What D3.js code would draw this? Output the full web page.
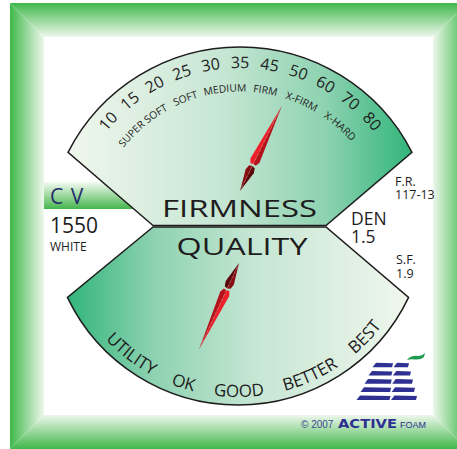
<!DOCTYPE html>
<html>
<head>
<meta charset="utf-8">
<script src="https://d3js.org/d3.v7.min.js"></script>
<style>
  body { margin: 0; background: #fff; }
  svg { display: block; font-family: "Open Sans", "Noto Sans", sans-serif; }
</style>
</head>
<body>
<script>
  // data
  var firmnessTicks = [10, 15, 20, 25, 30, 35, 45, 50, 60, 70, 80];
  var firmnessGrades = ["SUPER SOFT", "SOFT", "MEDIUM", "FIRM", "X-FIRM", "X-HARD"];
  var gradeValues = [14, 24, 32, 45, 55, 73];
  var qualityGrades = ["UTILITY", "OK", "GOOD", "BETTER", "BEST"];
  var firmnessValue = 50;
  var qualityValue = "OK";
  var cvLines = ["C V", "1550", "WHITE"];
  var specNames = ["F.R.", "DEN", "S.F."];
  var specValues = ["117-13", "1.5", "1.9"];

  var width = 457, height = 449;
  var green = "#3fb84a", pale = "#eef7ec";
  var teal = "#31b57a", tealPale = "#f0f7ed";
  var ink = "#1e1c1d";

  function rad(d) { return d * Math.PI / 180; }

  var svg = d3.select("body").append("svg")
      .attr("width", width).attr("height", height);
  var defs = svg.append("defs");

  function grad(id, x1, y1, x2, y2, stops) {
    var g = defs.append("linearGradient").attr("id", id)
      .attr("x1", x1).attr("y1", y1).attr("x2", x2).attr("y2", y2);
    stops.forEach(function(s) {
      g.append("stop").attr("offset", s[0]).attr("stop-color", s[1]);
    });
  }

  // frame
  var o = {x0: 10, y0: 3, x1: 467, y1: 449};
  var n = {x0: 44, y0: 37, x1: 433, y1: 415};
  grad("gTop", 0, 0, 0, 1, [[0, green], [1, pale]]);
  grad("gBot", 0, 0, 0, 1, [[0, pale], [1, green]]);
  grad("gLeft", 0, 0, 1, 0, [[0, green], [1, pale]]);
  grad("gRight", 0, 0, 1, 0, [[0, pale], [1, green]]);
  var sides = [
    {f: "gTop", p: [[o.x0, o.y0], [o.x1, o.y0], [n.x1, n.y0], [n.x0, n.y0]]},
    {f: "gBot", p: [[n.x0, n.y1], [n.x1, n.y1], [o.x1, o.y1], [o.x0, o.y1]]},
    {f: "gLeft", p: [[o.x0, o.y0], [n.x0, n.y0], [n.x0, n.y1], [o.x0, o.y1]]},
    {f: "gRight", p: [[n.x1, n.y0], [o.x1, o.y0], [o.x1, o.y1], [n.x1, n.y1]]}
  ];
  svg.selectAll("polygon.frame").data(sides).enter().append("polygon")
    .attr("class", "frame")
    .attr("points", function(d) { return d.p.join(" "); })
    .attr("fill", function(d) { return "url(#" + d.f + ")"; });

  // CV band
  grad("gBand", 0, 0, 0, 1, [[0, "#f4faf2"], [1, "#45b64c"]]);
  svg.append("rect").attr("x", n.x0).attr("y", 182).attr("width", 100).attr("height", 27)
    .attr("fill", "url(#gBand)");

  // gauges
  var up = {cx: 240, cy: 240, r: 193, a: 63, y: 225.5, xl: 153, xr: 326};
  var lo = {cx: 238, cy: 216, r: 189, a: 64.5, y: 227, xl: 153, xr: 326};
  grad("gUp", 0, 0, 1, 0, [[0, tealPale], [0.45, "#c6e6d3"], [0.75, "#8dd2b1"], [1, teal]]);
  grad("gLo", 0, 0, 1, 0, [[0, teal], [0.25, "#8dd2b1"], [0.55, "#c6e6d3"], [1, tealPale]]);

  var pu = d3.path();
  pu.moveTo(up.xl, up.y);
  pu.arc(up.cx, up.cy, up.r, rad(-up.a - 90), rad(up.a - 90), false);
  pu.lineTo(up.xr, up.y);
  pu.closePath();
  svg.append("path").attr("d", pu.toString()).attr("fill", "url(#gUp)")
    .attr("stroke", ink).attr("stroke-width", 1.5);

  var pl = d3.path();
  pl.moveTo(lo.xl, lo.y);
  pl.arc(lo.cx, lo.cy, lo.r, rad(90 + lo.a), rad(90 - lo.a), true);
  pl.lineTo(lo.xr, lo.y);
  pl.closePath();
  svg.append("path").attr("d", pl.toString()).attr("fill", "url(#gLo)")
    .attr("stroke", ink).attr("stroke-width", 1.5);

  // upper scale
  var tickPos = d3.scalePoint().domain(firmnessTicks).range([-48, 48]);
  var firmAngle = d3.scaleLinear().domain(firmnessTicks)
    .range(firmnessTicks.map(function(d) { return tickPos(d); }));

  // text baselines: upper arcs run left->top->right, lower arc left->bottom->right
  function arcPath(id, cx, cy, r, lower) {
    var p = d3.path();
    p.moveTo(cx - r, cy);
    if (lower) p.arc(cx, cy, r, Math.PI, 0, true);
    else p.arc(cx, cy, r, -Math.PI, 0, false);
    defs.append("path").attr("id", id).attr("d", p.toString());
  }
  var rNum = 172, rGrade = 148.5, rQual = 181;
  arcPath("numArc", up.cx, up.cy, rNum, false);
  arcPath("gradeArc", up.cx, up.cy, rGrade, false);
  arcPath("qualArc", lo.cx, lo.cy, rQual, true);

  svg.append("g").selectAll("text").data(firmnessTicks).enter().append("text")
    .attr("font-size", 16).attr("fill", ink)
    .append("textPath").attr("href", "#numArc")
    .attr("text-anchor", "middle")
    .attr("startOffset", function(d) { return rNum * rad(tickPos(d) + 90); })
    .text(function(d) { return d; });

  svg.append("g").selectAll("text").data(firmnessGrades).enter().append("text")
    .attr("font-size", 10.3).attr("fill", ink)
    .append("textPath").attr("href", "#gradeArc")
    .attr("text-anchor", "middle")
    .attr("startOffset", function(d, i) { return rGrade * rad(firmAngle(gradeValues[i]) + 90); })
    .text(function(d) { return d; });

  // lower scale: labels laid out along the arc with equal gaps
  var qSize = 17, spanL = -47, spanR = 52.5;
  var probe = svg.append("text").attr("font-size", qSize);
  var qWidths = qualityGrades.map(function(d) {
    probe.text(d); return probe.node().getComputedTextLength();
  });
  probe.remove();
  var spanLen = rQual * rad(spanR - spanL);
  var gap = (spanLen - d3.sum(qWidths)) / (qualityGrades.length - 1);
  var qOffsets = [], acc = rQual * rad(spanL + 90);
  qWidths.forEach(function(w) { qOffsets.push(acc + w / 2); acc += w + gap; });
  var qualAngle = d3.scaleOrdinal().domain(qualityGrades)
    .range(qOffsets.map(function(s) { return s / rQual * 180 / Math.PI - 90; }));

  svg.append("g").selectAll("text").data(qualityGrades).enter().append("text")
    .attr("font-size", qSize).attr("fill", ink)
    .append("textPath").attr("href", "#qualArc")
    .attr("text-anchor", "middle")
    .attr("startOffset", function(d, i) { return qOffsets[i]; })
    .text(function(d) { return d; });

  // titles
  svg.append("text").attr("x", 239.5).attr("y", 217).attr("text-anchor", "middle")
    .attr("font-size", 23.5).attr("fill", ink)
    .attr("textLength", 155).attr("lengthAdjust", "spacingAndGlyphs").text("FIRMNESS");
  svg.append("text").attr("x", 242).attr("y", 255).attr("text-anchor", "middle")
    .attr("font-size", 24).attr("fill", ink)
    .attr("textLength", 131).attr("lengthAdjust", "spacingAndGlyphs").text("QUALITY");

  // needles
  function needle(px, py, tx, ty) {
    var a = Math.atan2(tx - px, -(ty - py)) * 180 / Math.PI;
    var g = svg.append("g").attr("transform", "translate(" + px + "," + py + ") rotate(" + a + ")");
    var parts = [
      {c: "#ee1f28", p: [[0, -95], [-5, -34], [-3, -29.5], [0, -30]]},
      {c: "#b3121b", p: [[0, -95], [5, -34], [3, -29.5], [0, -30]]},
      {c: "#8a0d12", p: [[0, 0], [-4.5, -22], [-3.2, -27], [0, -28]]},
      {c: "#5a080b", p: [[0, 0], [4.5, -22], [3.2, -27], [0, -28]]}
    ];
    g.selectAll("polygon").data(parts).enter().append("polygon")
      .attr("points", function(d) { return d.p.join(" "); })
      .attr("fill", function(d) { return d.c; });
    g.append("line").attr("x1", 0).attr("y1", -4).attr("x2", 0).attr("y2", -88)
      .attr("stroke", "#ffb0b0").attr("stroke-width", 0.5).attr("stroke-dasharray", "3,2")
      .attr("opacity", 0.6);
  }
  var fa = firmAngle(firmnessValue), rT = 177;
  needle(240, 191, up.cx + rT * Math.sin(rad(fa)), up.cy - rT * Math.cos(rad(fa)));
  var qa = qualAngle(qualityValue), rQ = 175;
  needle(239, 263, lo.cx + rQ * Math.sin(rad(qa)), lo.cy + rQ * Math.cos(rad(qa)));

  // left block
  svg.append("text").attr("x", 50).attr("y", 204).attr("font-size", 21)
    .attr("fill", "#262b6e").attr("letter-spacing", 1).text(cvLines[0]);
  svg.append("text").attr("x", 50).attr("y", 233).attr("font-size", 21)
    .attr("fill", ink).text(cvLines[1]);
  svg.append("text").attr("x", 50).attr("y", 251).attr("font-size", 12)
    .attr("fill", ink).text(cvLines[2]);

  // right block
  var specPos = [{x: 395, y: 186, s: 12.5, lh: 13}, {x: 351, y: 225, s: 17.5, lh: 18}, {x: 396, y: 264, s: 12.5, lh: 14}];
  specNames.forEach(function(d, i) {
    var t = svg.append("text").attr("font-size", specPos[i].s).attr("fill", ink);
    t.append("tspan").attr("x", specPos[i].x).attr("y", specPos[i].y).text(d);
    t.append("tspan").attr("x", specPos[i].x).attr("y", specPos[i].y + specPos[i].lh).text(specValues[i]);
  });

  // logo
  var logo = svg.append("g").attr("fill", "#2e3192");
  d3.range(5).forEach(function(i) {
    var y = 365 + i * 8.2, x0 = 374 - i * 4, x1 = 408 + i * 2;
    var xm = x0 + (x1 - x0) * 0.56;
    [[x0, xm - 1], [xm + 2, x1]].forEach(function(s) {
      logo.append("path").attr("d",
        "M" + (s[0] + 2) + "," + (y - 2.3) + " L" + (s[1] + 1) + "," + (y - 1.8) +
        " L" + s[1] + "," + (y + 2.3) + " L" + (s[0] - 1.5) + "," + (y + 2.3) + " Z");
    });
  });
  svg.append("path").attr("d", "M407,360 Q411,355 418,356 Q422,356.5 425,353 L424,357 Q421,360 415,359.5 Q410,359 407,360 Z")
    .attr("fill", "#1d9b4f");

  // credit
  var credit = svg.append("g");
  credit.append("text").attr("x", 301).attr("y", 428).attr("font-size", 10)
    .attr("font-family", "Liberation Sans, Arial, sans-serif").attr("fill", "#3b4a8a").text("\u00a9 2007");
  credit.append("text").attr("x", 338).attr("y", 428).attr("font-size", 13)
    .attr("font-family", "DejaVu Sans, sans-serif").attr("font-weight", 900)
    .attr("fill", "#2e3192").attr("textLength", 59).attr("lengthAdjust", "spacingAndGlyphs").text("ACTIVE");
  credit.append("text").attr("x", 400).attr("y", 428).attr("font-size", 9)
    .attr("font-family", "Liberation Sans, Arial, sans-serif").attr("fill", "#2e3192")
    .attr("textLength", 26).text("FOAM");
</script>
</body>
</html>
